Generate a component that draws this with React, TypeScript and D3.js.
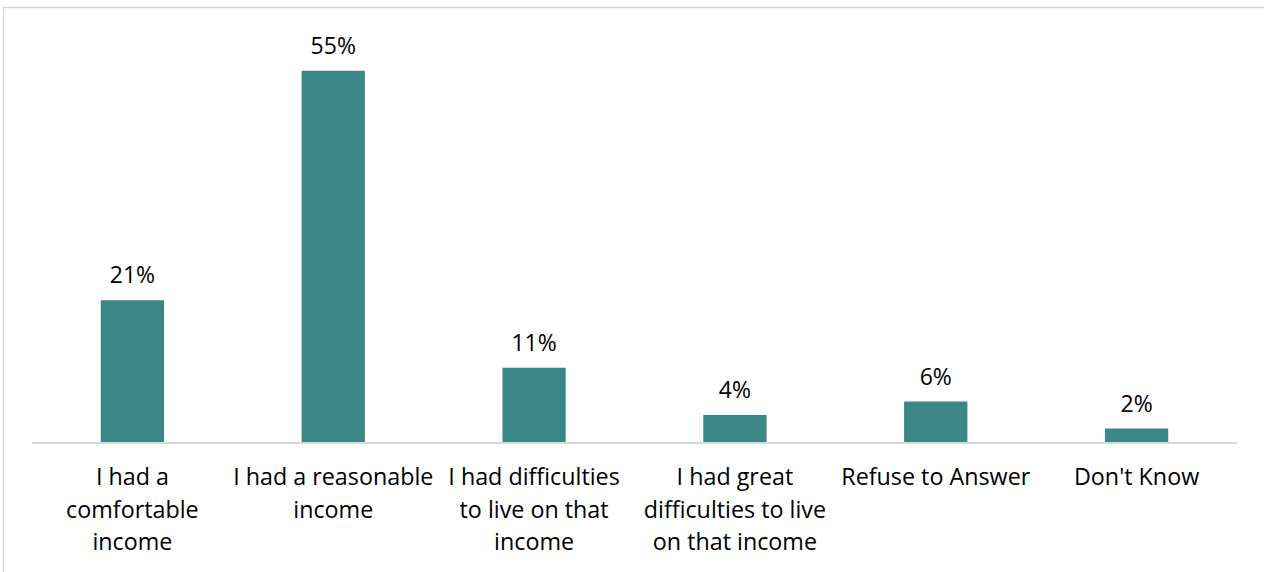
import React from "react";
import * as d3 from "d3";

const categories: string[][] = [
  ["I had a", "comfortable", "income"],
  ["I had a reasonable", "income"],
  ["I had difficulties", "to live on that", "income"],
  ["I had great", "difficulties to live", "on that income"],
  ["Refuse to Answer"],
  ["Don't Know"],
];
const values: number[] = [21, 55, 11, 4, 6, 2];
const valueLabels: string[] = ["21%", "55%", "11%", "4%", "6%", "2%"];

const W = 1264;
const H = 572;
const axisLeft = 32;
const axisRight = 1237;
const baseY = 442;

export default function App() {
  const ids = categories.map((_, i) => String(i));
  const x = d3.scaleBand<string>().domain(ids).range([axisLeft, axisRight]).paddingInner(0.685).paddingOuter(0.3425);
  const y = d3.scaleLinear().domain([0, 60]).range([baseY, 37]);
  const font = "'Open Sans', sans-serif";
  return (
    <svg width={W} height={H} style={{ position: "absolute", left: 0, top: 0 }}>
      <rect x={0} y={0} width={W} height={H} fill="#fff" />
      <rect x={3.5} y={7.5} width={W + 20} height={H + 20} fill="none" stroke="#d9d9d9" strokeWidth={1.5} />
      {values.map((v, i) => (
        <rect key={i} x={x(ids[i])} y={y(v)} width={x.bandwidth()} height={baseY - y(v)} fill="#3B8686" />
      ))}
      <line x1={axisLeft} x2={axisRight} y1={baseY + 1} y2={baseY + 1} stroke="#d9d9d9" strokeWidth={2} />
      {values.map((v, i) => (
        <text key={i} x={(x(ids[i]) as number) + x.bandwidth() / 2} y={y(v) - 17} textAnchor="middle" fontFamily={font} fontSize={23} fill="#000">
          {valueLabels[i]}
        </text>
      ))}
      {categories.map((lines, i) => (
        <text key={i} textAnchor="middle" fontFamily={font} fontSize={23.3} fill="#000">
          {lines.map((l, j) => (
            <tspan key={j} x={(x(ids[i]) as number) + x.bandwidth() / 2} y={485 + j * 32.5}>
              {l}
            </tspan>
          ))}
        </text>
      ))}
    </svg>
  );
}
